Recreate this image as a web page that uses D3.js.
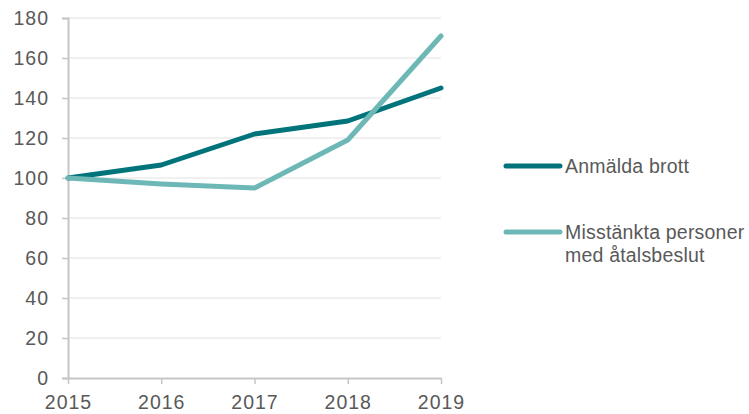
<!DOCTYPE html>
<html>
<head>
<meta charset="utf-8">
<script src="https://cdn.jsdelivr.net/npm/d3@7"></script>
<style>
  body { margin: 0; background: #fff; }
  svg text { font-family: "Liberation Sans", Arial, sans-serif; fill: #595959; }
</style>
</head>
<body>
<div id="chart"></div>
<script>
const years = [2015, 2016, 2017, 2018, 2019];
const anmalda = [100, 106.5, 122, 128.5, 145];
const misstankta = [100, 97, 95, 119, 171];
const seriesNames = ["Anmälda brott", "Misstänkta personer med åtalsbeslut"];
const yTicks = [0, 20, 40, 60, 80, 100, 120, 140, 160, 180];

const colors = ["#00747a", "#6db8b6"];
const width = 749, height = 414;
const margin = { top: 18, left: 68, right: 308, bottom: 36 };

const svg = d3.select("#chart").append("svg")
  .attr("width", width)
  .attr("height", height);

const x = d3.scalePoint()
  .domain(years)
  .range([margin.left, width - margin.right]);

const y = d3.scaleLinear()
  .domain([0, 180])
  .range([height - margin.bottom, margin.top]);

// gridlines
svg.append("g")
  .selectAll("line")
  .data(yTicks.filter(d => d > 0))
  .enter()
  .append("line")
  .attr("x1", margin.left)
  .attr("x2", width - margin.right)
  .attr("y1", d => y(d))
  .attr("y2", d => y(d))
  .attr("stroke", "#e2e2e2")
  .attr("stroke-width", 1);

// y axis
const yAxis = svg.append("g")
  .attr("transform", `translate(${margin.left},0)`)
  .call(d3.axisLeft(y).tickValues(yTicks).tickSize(6).tickPadding(13));
yAxis.select(".domain").attr("stroke", "#c6c6c6").attr("stroke-width", 2);
yAxis.selectAll(".tick line").attr("stroke", "#c6c6c6").attr("stroke-width", 1.5);
yAxis.selectAll(".tick text")
  .style("font-size", "19.5px")
  .style("letter-spacing", "1px")
  .attr("fill", "#595959");

// x axis
const xAxis = svg.append("g")
  .attr("transform", `translate(0,${height - margin.bottom})`)
  .call(d3.axisBottom(x).tickSize(6).tickPadding(11).tickSizeOuter(0));
xAxis.select(".domain").attr("stroke", "#c6c6c6").attr("stroke-width", 2);
xAxis.selectAll(".tick line").attr("stroke", "#c6c6c6").attr("stroke-width", 1.5);
xAxis.selectAll(".tick text")
  .style("font-size", "19.5px")
  .style("letter-spacing", "1px")
  .attr("fill", "#595959");

// lines
const line = d3.line()
  .x((d, i) => x(years[i]))
  .y(d => y(d));

[anmalda, misstankta].forEach((s, i) => {
  svg.append("path")
    .datum(s)
    .attr("fill", "none")
    .attr("stroke", colors[i])
    .attr("stroke-width", 5)
    .attr("stroke-linecap", "round")
    .attr("stroke-linejoin", "round")
    .attr("d", line);
});

// legend
const legend = svg.append("g").attr("transform", "translate(506,0)");
const legendY = [166, 232];
const legendLines = [["Anmälda brott"], ["Misstänkta personer", "med åtalsbeslut"]];

legendLines.forEach((lines, i) => {
  legend.append("line")
    .attr("x1", 0)
    .attr("x2", 54)
    .attr("y1", legendY[i])
    .attr("y2", legendY[i])
    .attr("stroke", colors[i])
    .attr("stroke-width", 5)
    .attr("stroke-linecap", "round");
  const t = legend.append("text")
    .attr("x", 59)
    .attr("y", legendY[i] + 7)
    .style("font-size", "19.5px")
    .style("letter-spacing", "0.2px");
  lines.forEach((l, j) => {
    t.append("tspan")
      .attr("x", 59)
      .attr("dy", j === 0 ? 0 : 23)
      .text(l);
  });
});
</script>
</body>
</html>
